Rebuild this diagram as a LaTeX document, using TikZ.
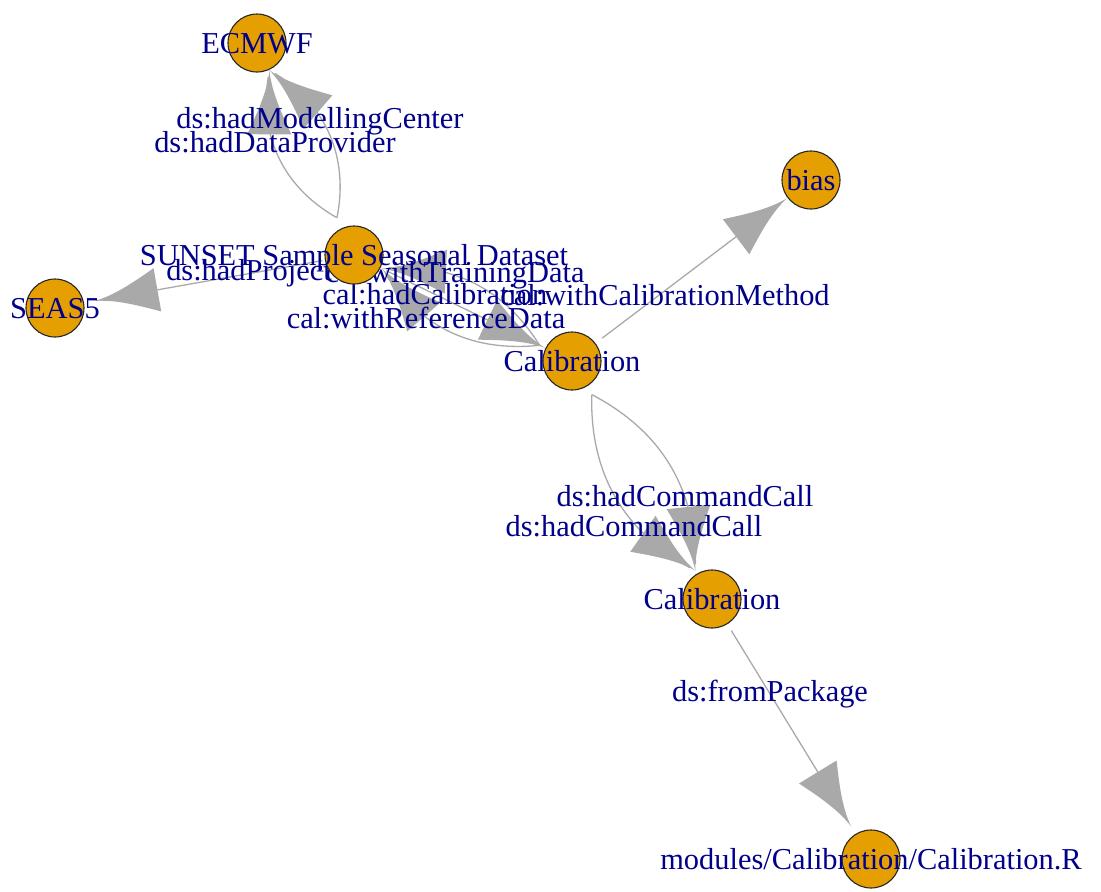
\documentclass[tikz,border=0pt]{standalone}
\usepackage{fontspec}
\setmainfont{Liberation Serif}
\usetikzlibrary{arrows.meta,bending,calc}

\definecolor{vfill}{HTML}{E69F00}
\definecolor{lab}{HTML}{00008B}
\definecolor{edgegray}{HTML}{A9A9A9}

% arrow head with concave sides, narrow at the tip and a wide straight back
\pgfdeclarearrow{
  name = IGHead,
  parameters = {\the\pgfarrowlength,\the\pgfarrowwidth},
  setup code = {
    \pgfarrowssettipend{0pt}
    \pgfarrowssetlineend{-.1\pgfarrowlength}
    \pgfarrowssetbackend{-\pgfarrowlength}
    \pgfarrowssetvisualbackend{-\pgfarrowlength}
    \pgfarrowssavethe\pgfarrowlength
    \pgfarrowssavethe\pgfarrowwidth
  },
  drawing code = {
    \pgfpathmoveto{\pgfqpoint{0pt}{0pt}}
    \pgfpathcurveto{\pgfqpoint{-.3\pgfarrowlength}{.04\pgfarrowwidth}}
                   {\pgfqpoint{-.62\pgfarrowlength}{.24\pgfarrowwidth}}
                   {\pgfqpoint{-\pgfarrowlength}{.5\pgfarrowwidth}}
    \pgfpathlineto{\pgfqpoint{-\pgfarrowlength}{-.5\pgfarrowwidth}}
    \pgfpathcurveto{\pgfqpoint{-.62\pgfarrowlength}{-.24\pgfarrowwidth}}
                   {\pgfqpoint{-.3\pgfarrowlength}{-.04\pgfarrowwidth}}
                   {\pgfqpoint{0pt}{0pt}}
    \pgfpathclose
    \pgfusepathqfill
  },
  defaults = {length = 64pt, width = 44pt}
}

\pgfdeclarelayer{edgelayer}
\pgfdeclarelayer{elabellayer}
\pgfdeclarelayer{vlabellayer}
\pgfsetlayers{edgelayer,elabellayer,main,vlabellayer}

\begin{document}
\begin{tikzpicture}[x=1pt,y=-1pt,
  vtx/.style={circle,draw=black!85,line width=1.1pt,fill=vfill,
              minimum size=58pt,inner sep=0pt},
  txt/.style={text=lab,font=\fontsize{30.4}{32}\selectfont,inner sep=0pt,anchor=base},
  vlab/.style={txt,yshift=-10.5pt},
  elab/.style={txt},
  edge/.style={draw=edgegray,line width=1.3pt,
               -{IGHead[length=64pt,width=44pt,flex]}},
]
\useasboundingbox (0,0) rectangle (1101,892);

% vertices
\node[vtx] (ecmwf)  at (257,43)  {};
\node[vtx] (bias)   at (811,180) {};
\node[vtx] (sunset) at (354,255) {};
\node[vtx] (seas)   at (55,308)  {};
\node[vtx] (cal1)   at (572,361) {};
\node[vtx] (cal2)   at (712,599) {};
\node[vtx] (mod)    at (871,859) {};

% vertex labels
\begin{pgfonlayer}{vlabellayer}
\node[vlab] (l-ecmwf)  at (ecmwf)  {ECMWF};
\node[vlab] (l-bias)   at (bias)   {bias};
\node[vlab] (l-sunset) at (sunset) {SUNSET Sample Seasonal Dataset};
\node[vlab] (l-seas)   at (seas)   {SEAS5};
\node[vlab] (l-cal1)   at (cal1)   {Calibration};
\node[vlab] (l-cal2)   at (cal2)   {Calibration};
\node[vlab] (l-mod)    at (mod)    {modules/Calibration/Calibration.R};
\end{pgfonlayer}

% edges
\begin{pgfonlayer}{edgelayer}
\draw[edge] ($(sunset)!41pt!(ecmwf)$) to[bend left=36]  ($(ecmwf)!30pt!(sunset)$);
\draw[edge] ($(sunset)!41pt!(ecmwf)$) to[bend right=36] ($(ecmwf)!30pt!(sunset)$);
\draw[edge] ($(sunset)!32pt!(seas)$) -- ($(seas)!40pt!(sunset)$);
\draw[edge] ($(sunset)!36pt!(cal1)$) -- ($(cal1)!30pt!(sunset)$);
\draw[edge] ($(cal1)!36pt!(sunset)$) to[bend right=32] ($(sunset)!31pt!(cal1)$);
\draw[edge] ($(cal1)!36pt!(sunset)$) to[bend left=32]  ($(sunset)!31pt!(cal1)$);
\draw[edge] ($(cal1)!38pt!(bias)$) -- ($(bias)!30pt!(cal1)$);
\draw[edge] ($(cal1)!39pt!(cal2)$) to[bend left=32]  ($(cal2)!33pt!(cal1)$);
\draw[edge] ($(cal1)!39pt!(cal2)$) to[bend right=32] ($(cal2)!33pt!(cal1)$);
\draw[edge] ($(cal2)!37pt!(mod)$) -- ($(mod)!38pt!(cal2)$);
\end{pgfonlayer}

% edge labels
\begin{pgfonlayer}{elabellayer}
\node[elab] (e1)  at (320,128) {ds:hadModellingCenter};
\node[elab] (e2)  at (275,152) {ds:hadDataProvider};
\node[elab] (e3)  at (249,280) {ds:hadProject};
\node[elab] (e4)  at (455,282) {cal:withTrainingData};
\node[elab] (e5)  at (435,304) {cal:hadCalibration};
\node[elab] (e6)  at (426,328) {cal:withReferenceData};
\node[elab] (e7)  at (665,305) {cal:withCalibrationMethod};
\node[elab] (e8)  at (685,506) {ds:hadCommandCall};
\node[elab] (e9)  at (634,536) {ds:hadCommandCall};
\node[elab] (e10) at (770,701) {ds:fromPackage};
\end{pgfonlayer}
\end{tikzpicture}
\end{document}
